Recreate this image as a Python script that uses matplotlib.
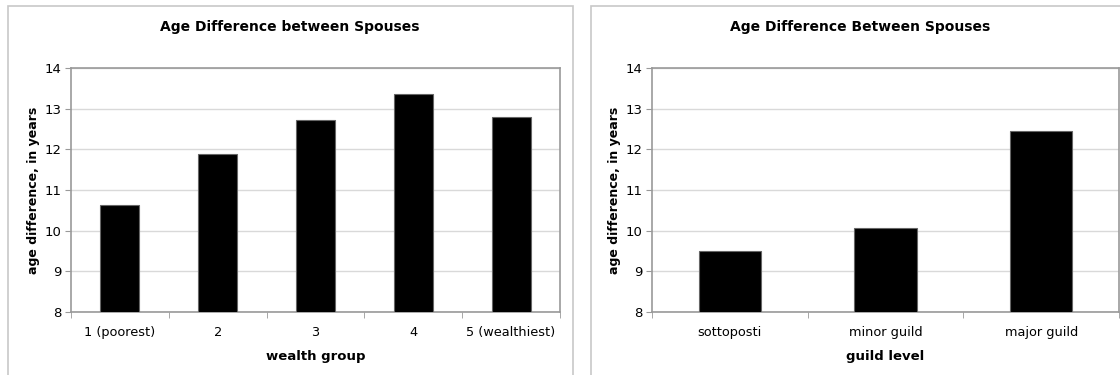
import matplotlib.pyplot as plt
import numpy as np
from matplotlib.patches import Rectangle

# wealth chart
wealth_groups = ['1 (poorest)', '2', '3', '4', '5 (wealthiest)']
wealth_gap = [10.62, 11.89, 12.73, 13.36, 12.80]

# guild chart
guild_levels = ['sottoposti', 'minor guild', 'major guild']
guild_gap = [9.49, 10.06, 12.46]

W, H = 1120, 375
fig = plt.figure(figsize=(W / 100, H / 100), dpi=100)
plt.rcParams['font.family'] = 'DejaVu Sans'

# chart area borders, in pixels (left, right); tops at 6px
for x0, x1 in [(7.5, 572.5), (591, 1140)]:
    fig.patches.append(Rectangle((x0 / W, -0.1), (x1 - x0) / W, 1.1 - 6 / H,
                                 transform=fig.transFigure, fill=False,
                                 edgecolor='#c8c8c8', linewidth=1.2))

def draw(ax_box, cats, vals, title, xlabel, title_x):
    l, t, r, b = ax_box
    ax = fig.add_axes([l / W, 1 - b / H, (r - l) / W, (b - t) / H])
    x = np.arange(len(cats))
    ax.bar(x, vals, width=0.4, color='black', edgecolor='#666666',
           linewidth=0.8, zorder=3)
    ax.set_xlim(-0.5, len(cats) - 0.5)
    ax.set_ylim(8, 14)
    ax.set_yticks(np.arange(8, 15, 1))
    ax.yaxis.grid(True, color='#d9d9d9', linewidth=1, zorder=0)
    ax.set_xticks(x)
    ax.set_xticklabels(cats, fontsize=9.3)
    ax.set_xticks(np.arange(-0.5, len(cats), 1), minor=True)
    ax.tick_params(axis='x', which='major', length=0, pad=10)
    ax.tick_params(axis='x', which='minor', length=4, color='#999999')
    ax.tick_params(axis='y', length=4, color='#999999', labelsize=9.5, pad=3)
    for s in ax.spines.values():
        s.set_color('#999999')
        s.set_linewidth(1.2)
    ax.set_xlabel(xlabel, fontsize=9.5, fontweight='bold', labelpad=8)
    ax.set_ylabel('age difference, in years', fontsize=9, fontweight='bold', labelpad=3)
    fig.text(title_x / W, 1 - 27 / H, title, ha='center', va='center',
             fontsize=10, fontweight='bold')
    return ax

draw((71, 68, 560, 312), wealth_groups, wealth_gap,
     'Age Difference between Spouses', 'wealth group', 290)
draw((652, 68, 1119, 312), guild_levels, guild_gap,
     'Age Difference Between Spouses', 'guild level', 860)

fig.savefig('out.png', dpi=100)
